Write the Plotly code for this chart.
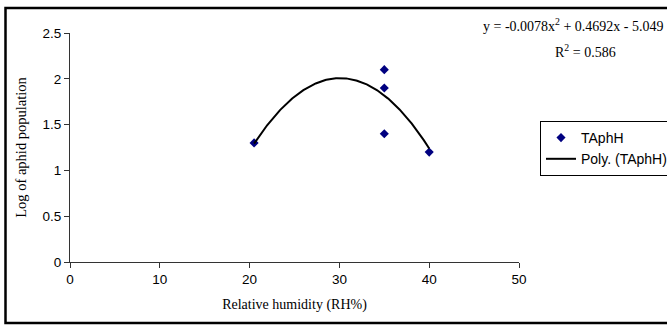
import numpy as np
import plotly.graph_objects as go

# Data
rh = [20.5, 35, 35, 35, 40]
log_aphid = [1.3, 2.1, 1.9, 1.4, 1.2]
# Trendline coefficients (from chart label): y = a x^2 + b x + c
trend_coef = [-0.0078, 0.4692, -5.049]
x_ticks = [0, 10, 20, 30, 40, 50]
y_ticks = [0, 0.5, 1, 1.5, 2, 2.5]

xs = np.linspace(min(rh), max(rh), 200)
ys = np.polyval(trend_coef, xs)

fig = go.Figure()
fig.add_trace(go.Scatter(
    x=rh, y=log_aphid, mode="markers", name="TAphH",
    marker=dict(symbol="diamond", size=7, color="#000080"),
))
fig.add_trace(go.Scatter(
    x=xs, y=ys, mode="lines", name="Poly. (TAphH)",
    line=dict(color="black", width=2),
))

W, H = 667, 325
L, R, T, B = 70, 148, 33, 63
pw, ph = W - L - R, H - T - B

def px(xp):
    return (xp - L) / pw

def py(yp):
    return (H - B - yp) / ph

SANS = "Liberation Sans, Arial"
SERIF = "Liberation Serif, Times New Roman"

fig.update_layout(
    width=W, height=H,
    margin=dict(l=L, r=R, t=T, b=B, autoexpand=False),
    plot_bgcolor="white", paper_bgcolor="white",
    showlegend=True,
    legend=dict(
        x=px(540), y=py(121), xanchor="left", yanchor="top",
        bordercolor="black", borderwidth=1, bgcolor="white",
        font=dict(family=SANS, size=14, color="black"),
        tracegroupgap=0, itemwidth=30,
    ),
    xaxis=dict(
        range=[0, 50], tickvals=x_ticks, ticktext=[str(v) for v in x_ticks],
        showgrid=False, zeroline=False, showline=True, linecolor="#333",
        linewidth=1, ticks="outside", ticklen=5, tickcolor="#333",
        tickfont=dict(family=SANS, size=13.5, color="black"),
        title=dict(text="Relative humidity (RH%)",
                   font=dict(family=SERIF, size=14, color="black"),
                   standoff=12),
    ),
    yaxis=dict(
        range=[0, 2.5], tickvals=y_ticks, ticktext=[str(v) for v in y_ticks],
        showgrid=False, zeroline=False, showline=True, linecolor="#333",
        linewidth=1, ticks="outside", ticklen=5, tickcolor="#333",
        tickfont=dict(family=SANS, size=13.5, color="black"),
        title=dict(text="Log of aphid population",
                   font=dict(family=SERIF, size=14.5, color="black"),
                   standoff=12),
    ),
    shapes=[dict(
        type="rect", xref="paper", yref="paper",
        x0=px(5.5), x1=px(675), y0=py(323), y1=py(8),
        line=dict(color="black", width=2.5), fillcolor="rgba(0,0,0,0)",
        layer="above",
    )],
    annotations=[
        dict(xref="paper", yref="paper", x=px(481), y=py(25), xanchor="left", yanchor="middle",
             text="y = -0.0078x<sup>2</sup> + 0.4692x - 5.049", showarrow=False,
             font=dict(family=SERIF, size=14, color="black")),
        dict(xref="paper", yref="paper", x=px(553), y=py(51), xanchor="left", yanchor="middle",
             text="R<sup>2</sup> = 0.586", showarrow=False,
             font=dict(family=SERIF, size=14, color="black")),
    ],
)

fig.write_html("out.html")
